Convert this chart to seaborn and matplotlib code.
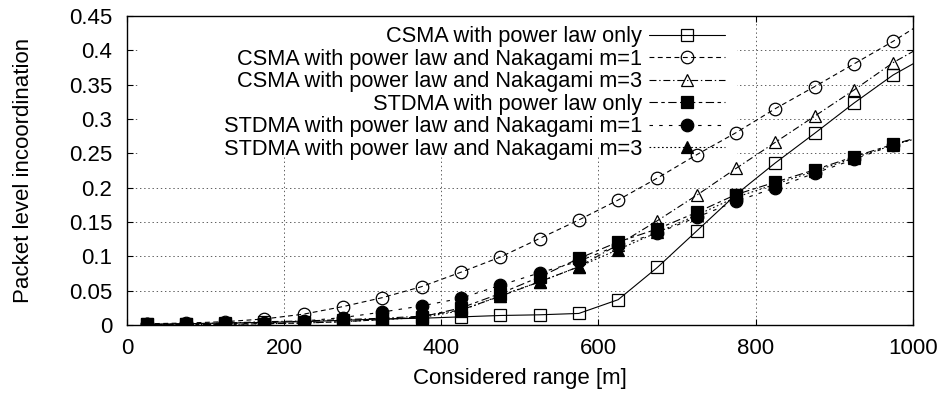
import matplotlib
matplotlib.use("Agg")
import matplotlib.pyplot as plt
from matplotlib.patches import Rectangle
import seaborn as sns
import pandas as pd

# Considered range [m]; the last point lies just beyond the axis limit
ranges = [25, 75, 125, 175, 225, 275, 325, 375, 425, 475, 525, 575,
          625, 675, 725, 775, 825, 875, 925, 975, 1025]

csma_pl = [0.001, 0.002, 0.003, 0.004, 0.005, 0.007, 0.009, 0.010, 0.012, 0.014, 0.015,
           0.017, 0.037, 0.084, 0.137, 0.190, 0.236, 0.279, 0.323, 0.364, 0.396]
csma_m1 = [0.002, 0.003, 0.005, 0.009, 0.016, 0.027, 0.040, 0.056, 0.077, 0.099, 0.126,
           0.153, 0.182, 0.214, 0.248, 0.280, 0.315, 0.347, 0.380, 0.413, 0.449]
csma_m3 = [0.001, 0.002, 0.003, 0.005, 0.006, 0.008, 0.010, 0.013, 0.022, 0.042, 0.063,
           0.085, 0.117, 0.152, 0.189, 0.228, 0.266, 0.304, 0.342, 0.382, 0.414]
stdma_pl = [0.001, 0.001, 0.001, 0.002, 0.003, 0.005, 0.008, 0.012, 0.025, 0.046, 0.070,
            0.097, 0.121, 0.140, 0.164, 0.190, 0.208, 0.226, 0.245, 0.263, 0.279]
stdma_m1 = [0.001, 0.001, 0.002, 0.003, 0.006, 0.011, 0.019, 0.028, 0.039, 0.058, 0.076,
            0.093, 0.116, 0.134, 0.157, 0.180, 0.200, 0.221, 0.241, 0.262, 0.279]
stdma_m3 = [0.001, 0.001, 0.001, 0.002, 0.003, 0.005, 0.008, 0.011, 0.021, 0.043, 0.063,
            0.085, 0.110, 0.135, 0.160, 0.186, 0.205, 0.224, 0.243, 0.262, 0.278]

series_labels = [
    "CSMA with power law only",
    "CSMA with power law and Nakagami m=1",
    "CSMA with power law and Nakagami m=3",
    "STDMA with power law only",
    "STDMA with power law and Nakagami m=1",
    "STDMA with power law and Nakagami m=3",
]
series_values = [csma_pl, csma_m1, csma_m3, stdma_pl, stdma_m1, stdma_m3]

x_ticks = [0, 200, 400, 600, 800, 1000]
y_ticks = [0, 0.05, 0.1, 0.15, 0.2, 0.25, 0.3, 0.35, 0.4, 0.45]
y_tick_labels = ["0", "0.05", "0.1", "0.15", "0.2", "0.25", "0.3", "0.35", "0.4", "0.45"]

sns.set_style("ticks")
plt.rcParams["font.family"] = ["Liberation Sans", "DejaVu Sans"]
plt.rcParams["lines.scale_dashes"] = False
plt.rcParams["text.color"] = "black"
plt.rcParams["axes.labelcolor"] = "black"

FS = 16
LEG_FS = 15.7

styles = [
    dict(marker="s", mfc="none", ls="-"),
    dict(marker="o", mfc="none", ls=(0, (3.5, 2.5))),
    dict(marker="^", mfc="none", ls=(0, (5, 2, 1, 2))),
    dict(marker="s", mfc="black", ls=(0, (6, 2.5, 2.5, 2.5))),
    dict(marker="o", mfc="black", ls=(0, (2.5, 4.5))),
    dict(marker="^", mfc="black", ls=(0, (1.2, 1.8))),
]

df = pd.DataFrame({"range": ranges})

fig = plt.figure(figsize=(9.44, 3.96), dpi=100)
ax = fig.add_axes([0.1345, 0.179, 0.8325, 0.781])
ax.set_axisbelow(True)

for label, vals, st in zip(series_labels, series_values, styles):
    sns.lineplot(x=df["range"], y=vals, ax=ax, color="black", linewidth=0.8,
                 marker=st["marker"], markersize=9, markerfacecolor=st["mfc"],
                 markeredgecolor="black", markeredgewidth=0.9,
                 linestyle=st["ls"], label=label, zorder=3)

ax.set_xlim(0, 1000)
ax.set_ylim(0, 0.45)
ax.set_xticks(x_ticks)
ax.set_xticklabels([str(v) for v in x_ticks])
ax.set_yticks(y_ticks)
ax.set_yticklabels(y_tick_labels)
ax.tick_params(direction="in", length=4.5, width=0.8, top=True, right=True,
               labelsize=FS, colors="black")
ax.tick_params(axis="x", pad=9)
ax.tick_params(axis="y", pad=10.5)
ax.grid(True, color="#444444", linestyle=(0, (1, 2)), linewidth=0.6)
for sp in ax.spines.values():
    sp.set_linewidth(1.0)
    sp.set_color("black")

ax.set_xlabel("Considered range [m]", fontsize=FS, labelpad=7)
ax.set_ylabel("Packet level incoordination", fontsize=FS, labelpad=25)

# opaque key area: hides the grid behind the key, curves stay on top
ax.add_patch(Rectangle((0.0165, 0.545), 0.76, 0.455, transform=ax.transAxes,
                       facecolor="white", edgecolor="none", zorder=1))

leg = ax.legend(loc="upper right", bbox_to_anchor=(0.761, 0.966), frameon=False,
                markerfirst=False, fontsize=LEG_FS, handlelength=3.5,
                handletextpad=0.3, labelspacing=0.07, borderpad=0,
                borderaxespad=0)
leg.set_zorder(4)
for t in leg.get_texts():
    t.set_color("black")

fig.savefig("out.png", dpi=100)
